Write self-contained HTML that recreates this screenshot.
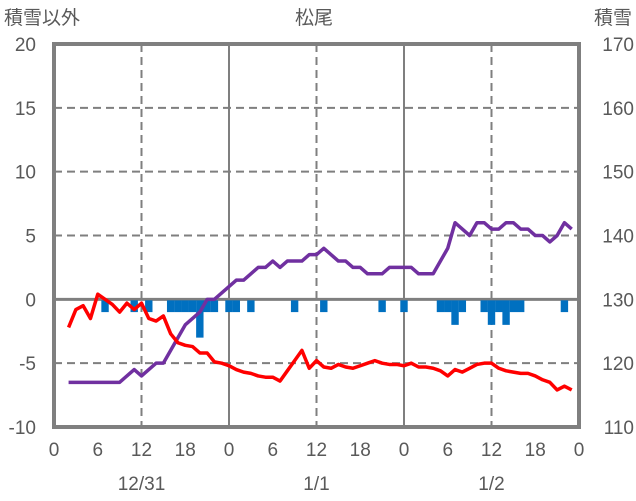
<!DOCTYPE html>
<html><head><meta charset="utf-8"><style>
html,body{margin:0;background:#fff;overflow:hidden;width:636px;height:501px;}
svg{display:block;}
svg text{font-family:"Liberation Sans","Noto Sans CJK JP",sans-serif;fill:#595959;}
</style></head><body>
<svg width="636" height="501" xmlns="http://www.w3.org/2000/svg">
<g id="grid"></g>
<g id="bars"></g>
<g id="lines"></g>
<rect x="54" y="44" width="525" height="383" fill="none" stroke="#7f7f7f" stroke-width="4"/>
<text x="314" y="24" font-size="19" text-anchor="middle">松尾</text>
<text x="4" y="24" font-size="19">積雪以外</text>
<text x="632" y="24" font-size="19" text-anchor="end">積雪</text>
<g id="axes"></g>
</svg>
<script>
const leftTicks=[20,15,10,5,0,-5,-10];
const rightTicks=[170,160,150,140,130,120,110];
const xTickHours=[0,6,12,18,24,30,36,42,48,54,60,66,72];
const xTickLabels=["0","6","12","18","0","6","12","18","0","6","12","18","0"];
const dateLabels=["12/31","1/1","1/2"];
const dateHours=[12,36,60];
const hours=[];for(let h=2;h<=71;h++)hours.push(h);
const tempSeries=[-2.2,-0.8,-0.5,-1.5,0.4,0,-0.4,-1,-0.3,-0.8,-0.3,-1.5,-1.7,-1.3,-2.7,-3.4,-3.6,-3.7,-4.2,-4.2,-4.9,-5.0,-5.2,-5.5,-5.7,-5.8,-6.0,-6.1,-6.1,-6.4,-5.6,-4.8,-4.0,-5.4,-4.8,-5.3,-5.4,-5.1,-5.3,-5.4,-5.2,-5.0,-4.8,-5.0,-5.1,-5.1,-5.2,-5.0,-5.3,-5.3,-5.4,-5.6,-6.0,-5.5,-5.7,-5.4,-5.1,-5.0,-5.0,-5.4,-5.6,-5.7,-5.8,-5.8,-6.0,-6.3,-6.5,-7.1,-6.8,-7.1];
const snowDepth=[117,117,117,117,117,117,117,117,118,119,118,119,120,120,122,124,126,127,128,130,130,131,132,133,133,134,135,135,136,135,136,136,136,137,137,138,137,136,136,135,135,134,134,134,135,135,135,135,134,134,134,136,138,142,141,140,142,142,141,141,142,142,141,141,140,140,139,140,142,141];
const barHours=[7,11,13,16,17,18,19,20,21,22,24,25,27,33,37,45,48,53,54,55,56,59,60,61,62,63,64,70];
const barValues=[-1,-1,-1,-1,-1,-1,-1,-3,-1,-1,-1,-1,-1,-1,-1,-1,-1,-1,-1,-2,-1,-1,-2,-1,-2,-1,-1,-1];
const NS="http://www.w3.org/2000/svg";
const X0=54,X1=579,Y0=44,Y1=427;
const x=h=>X0+(X1-X0)*h/72;
const yL=v=>Y0+(Y1-Y0)*(20-v)/30;
const yR=v=>Y0+(Y1-Y0)*(170-v)/60;
function mk(t,a,p){const e=document.createElementNS(NS,t);for(const k in a)e.setAttribute(k,a[k]);document.getElementById(p).appendChild(e);return e;}
leftTicks.forEach(v=>{
 if(v===20||v===-10)return;
 const l=mk('line',{x1:X0,x2:X1,y1:yL(v),y2:yL(v),stroke:'#7f7f7f','stroke-width':v===0?3:2,'stroke-dasharray':v===0?'':'8,5'},'grid');
 
 
});
xTickHours.forEach(h=>{
 if(h===0||h===72||h%12!==0)return;
 const day=h%24===0;
 const l=mk('line',{x1:x(h),x2:x(h),y1:Y0,y2:Y1,stroke:'#7f7f7f','stroke-width':2,'stroke-dasharray':day?'':'8,5'},'grid');
 
 
});
barHours.forEach((h,i)=>{
 const r=mk('rect',{x:x(h)-3.7,y:yL(0)+1,width:7.4,height:yL(barValues[i])-yL(0)-1,fill:'#0070c0'},'bars');
 
 
});
const p1=mk('polyline',{points:hours.map((h,i)=>x(h)+','+yR(snowDepth[i])).join(' '),fill:'none',stroke:'#7030a0','stroke-width':3.5,'stroke-linejoin':'round'},'lines');


const p2=mk('polyline',{points:hours.map((h,i)=>x(h)+','+yL(tempSeries[i])).join(' '),fill:'none',stroke:'#ff0000','stroke-width':3.5,'stroke-linejoin':'round'},'lines');


leftTicks.forEach(v=>{
 const t=mk('text',{x:36,y:yL(v)+7,'font-size':19,'text-anchor':'end'},'axes');t.textContent=v;
 
 
});
rightTicks.forEach(v=>{
 const t=mk('text',{x:634,y:yR(v)+7,'font-size':19,'text-anchor':'end'},'axes');t.textContent=v;
 
 
});
xTickHours.forEach((h,i)=>{
 const t=mk('text',{x:x(h),y:456,'font-size':19,'text-anchor':'middle'},'axes');t.textContent=xTickLabels[i];
 
 
});
dateHours.forEach((h,i)=>{
 const t=mk('text',{x:x(h),y:490,'font-size':19,'text-anchor':'middle'},'axes');t.textContent=dateLabels[i];
 
 
});
</script>
</body></html>
